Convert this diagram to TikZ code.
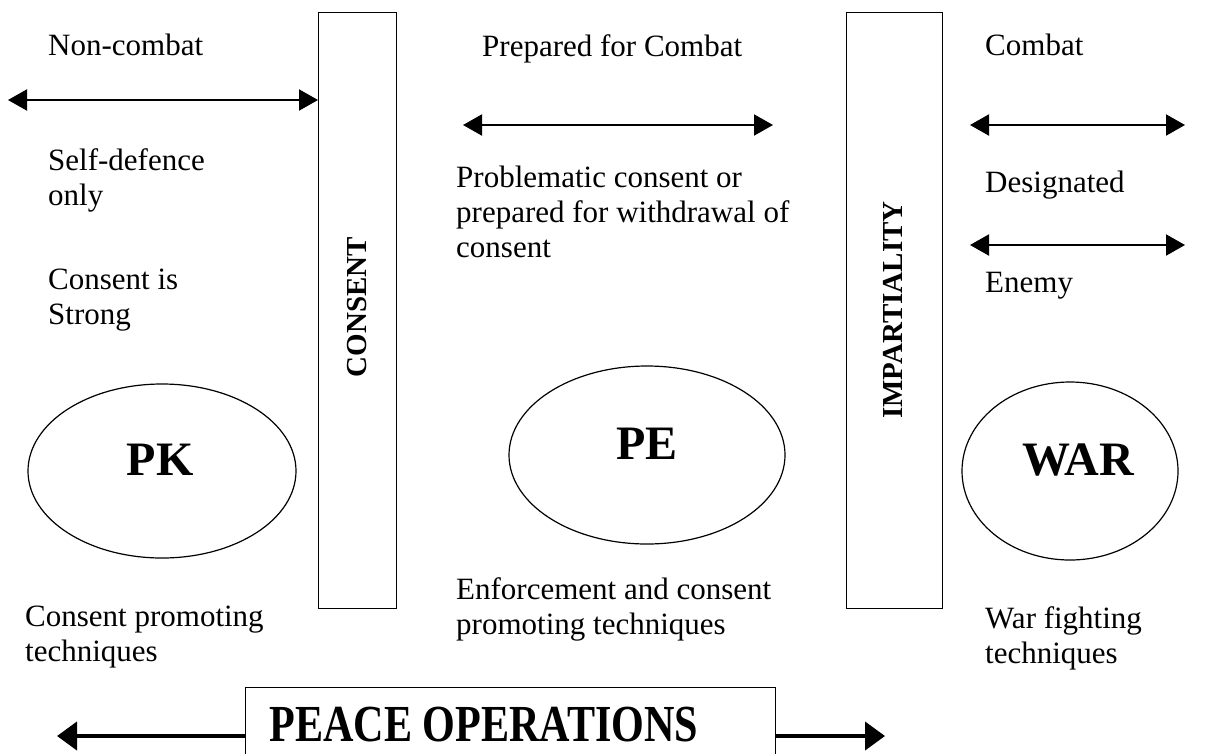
\documentclass[tikz,border=0pt]{standalone}
\usepackage{fontspec}
\usepackage{graphicx}
\setmainfont{Liberation Serif}
\usetikzlibrary{arrows.meta,shapes.geometric}
\begin{document}
\begin{tikzpicture}[x=1pt,y=-1pt,
  txt/.style={anchor=north west, inner sep=0pt, font=\fontsize{31}{35}\selectfont, align=left},
  bar/.style={draw, line width=1.4pt, inner sep=0pt},
  bartxt/.style={rotate=90, inner sep=0pt, font=\fontsize{29}{33}\selectfont\bfseries},
  oval/.style={draw, ellipse, line width=1.2pt, inner sep=0pt},
  ovaltxt/.style={inner sep=0pt, font=\fontsize{48}{52}\selectfont\bfseries},
  dbl/.style={line width=2pt, {Triangle[length=19pt,width=21pt]}-{Triangle[length=19pt,width=21pt]}},
  thick arrow/.style={line width=4pt, -{Triangle[length=20pt,width=28pt]}}]
\useasboundingbox (0,0) rectangle (1220,753);
\clip (0,0) rectangle (1220,753);

% vertical bars
\node[bar, minimum width=78pt, minimum height=596pt, anchor=north west] (consent) at (318,12) {};
\node[bartxt] (consentlbl) at (357,307) {CONSENT};
\node[bar, minimum width=96pt, minimum height=596pt, anchor=north west] (impart) at (846,12) {};
\node[bartxt] (impartlbl) at (893,310) {IMPARTIALITY};

% ovals
\node[oval, minimum width=268pt, minimum height=174pt] (pk) at (162,471) {};
\node[ovaltxt] (pklbl) at (160,460) {PK};
\node[oval, minimum width=276pt, minimum height=178pt] (pe) at (647,455) {};
\node[ovaltxt] (pelbl) at (647,444) {PE};
\node[oval, minimum width=216pt, minimum height=178pt] (war) at (1070,471) {};
\node[ovaltxt] (warlbl) at (1078,460) {WAR};

% texts
\node[txt] (t1) at (48,34) {Non-combat};
\node[txt] (t2) at (482,34) {Prepared for Combat};
\node[txt] (t3) at (985,34) {Combat};
\node[txt] (t4) at (48,148) {Self-defence\\only};
\node[txt] (t5) at (456,166) {Problematic consent or\\prepared for withdrawal of\\consent};
\node[txt] (t6) at (985,171) {Designated};
\node[txt] (t7) at (48,269) {Consent is\\Strong};
\node[txt] (t8) at (985,272) {Enemy};
\node[txt] (t9) at (456,577) {Enforcement and consent\\promoting techniques};
\node[txt] (t10) at (25,606) {Consent promoting\\techniques};
\node[txt] (t11) at (985,606) {War fighting\\techniques};

% arrows
\coordinate (a1) at (8,100);
\draw[dbl] (a1) -- (consent.west |- a1);
\coordinate (a2l) at (463,125);
\coordinate (a2r) at (773,125);
\draw[dbl] (a2l) -- (a2r);
\coordinate (a3l) at (970,125);
\coordinate (a3r) at (1185,125);
\draw[dbl] (a3l) -- (a3r);
\coordinate (a4l) at (970,245);
\coordinate (a4r) at (1185,245);
\draw[dbl] (a4l) -- (a4r);

% bottom box
\node[draw, line width=1.4pt, anchor=north west, minimum width=530pt, minimum height=120pt, inner sep=0pt] (po) at (245,687) {};
\node[anchor=base, inner sep=0pt, text depth=0pt, font=\fontsize{52}{56}\selectfont\bfseries] (polbl) at (484,741) {\scalebox{0.81}[1]{PEACE OPERATIONS}};
\coordinate (bl) at (57,736);
\coordinate (br) at (885,736);
\draw[thick arrow] (po.west |- bl) -- (bl);
\draw[thick arrow] (po.east |- br) -- (br);
\end{tikzpicture}
\end{document}
